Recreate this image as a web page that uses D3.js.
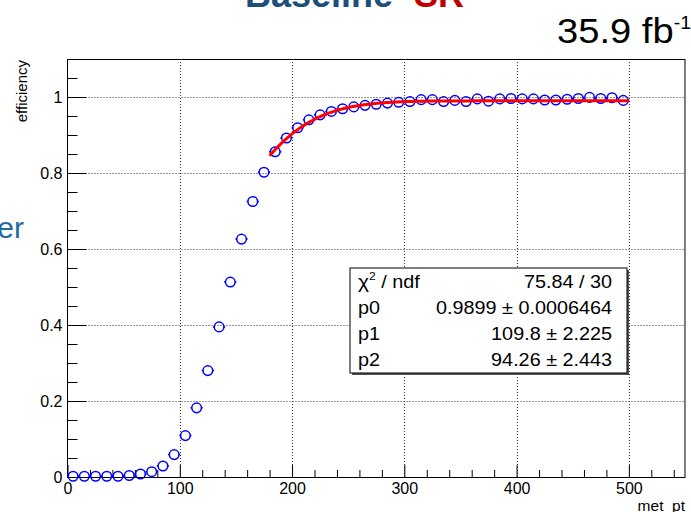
<!DOCTYPE html>
<html>
<head>
<meta charset="utf-8">
<script src="https://cdn.jsdelivr.net/npm/d3@7"></script>
<style>
  html, body { margin: 0; padding: 0; background: #fff; }
  svg { display: block; font-family: "Liberation Sans", Arial, Helvetica, sans-serif; }
</style>
</head>
<body>
<svg id="chart" width="691" height="512"></svg>
<script>
// MET trigger efficiency per 10 GeV bin (bin centres) and the fitted plateau
const metBinCenters = [5, 15, 25, 35, 45, 55, 65, 75, 85, 95,
  105, 115, 125, 135, 145, 155, 165, 175, 185, 195,
  205, 215, 225, 235, 245, 255, 265, 275, 285, 295,
  305, 315, 325, 335, 345, 355, 365, 375, 385, 395,
  405, 415, 425, 435, 445, 455, 465, 475, 485, 495];
const efficiency = [0.002, 0.002, 0.002, 0.002, 0.002, 0.004, 0.008, 0.014, 0.029, 0.059,
  0.109, 0.182, 0.280, 0.395, 0.513, 0.626, 0.725, 0.802, 0.856, 0.892,
  0.919, 0.940, 0.953, 0.962, 0.969, 0.974, 0.978, 0.981, 0.984, 0.986,
  0.988, 0.993, 0.993, 0.988, 0.991, 0.988, 0.995, 0.989, 0.995, 0.996,
  0.995, 0.995, 0.992, 0.992, 0.994, 0.996, 0.999, 0.996, 0.998, 0.991];
const binHalfWidth = 5;

// fit: p0 * 0.5 * (1 + erf((x - p1) / p2)), fitted over 180-500
const fitParams = { p0: 0.9899, p1: 109.8, p2: 94.26 };
const fitRange = [180, 500];

const xMajorTicks = [0, 100, 200, 300, 400, 500];
const yMajorTicks = [0, 0.2, 0.4, 0.6, 0.8, 1.0];

const statsRows = [
  { name: "p0", value: "0.9899 \u00b1 0.0006464" },
  { name: "p1", value: "109.8 \u00b1 2.225" },
  { name: "p2", value: "94.26 \u00b1 2.443" }
];
const chi2Text = "75.84 / 30";

const svg = d3.select("#chart");

const frame = { left: 67.5, right: 685, top: 59, bottom: 477 };
const x = d3.scaleLinear().domain([0, 550]).range([frame.left, frame.right]);
const y = d3.scaleLinear().domain([0, 1.1]).range([frame.bottom, frame.top]);

// Abramowitz & Stegun 7.1.26
function erf(v) {
  const s = v < 0 ? -1 : 1;
  const a = Math.abs(v);
  const t = 1 / (1 + 0.3275911 * a);
  const p = t * (0.254829592 + t * (-0.284496736 + t * (1.421413741 + t * (-1.453152027 + t * 1.061405429))));
  return s * (1 - p * Math.exp(-a * a));
}
const fitFn = v => fitParams.p0 * 0.5 * (1 + erf((v - fitParams.p1) / fitParams.p2));

// text placed at (px, py) and widened horizontally by sx
function wideText(parent, px, py, sx, anchor) {
  return parent.append("g").attr("transform", `translate(${px},${py}) scale(${sx},1)`)
    .append("text").attr("x", 0).attr("y", 0).attr("text-anchor", anchor || "start");
}

// slide fragments around the plot
svg.append("text").attr("x", 245).attr("y", 7)
  .attr("font-size", 36).attr("font-weight", "bold").attr("fill", "#1f4e79")
  .text("Baseline");
svg.append("text").attr("x", 414).attr("y", 7)
  .attr("font-size", 36).attr("font-weight", "bold").attr("fill", "#c00000")
  .text("SR");
svg.append("text").attr("x", 24).attr("y", 238).attr("text-anchor", "end")
  .attr("font-size", 30).attr("fill", "#1f6ba5")
  .text("er");

const lumi = wideText(svg, 557, 43, 1.09).attr("font-size", 35).attr("fill", "#000");
lumi.append("tspan").text("35.9 fb");
lumi.append("tspan").attr("font-size", 18).attr("dy", -14).text("-1");

// grid
const gridG = svg.append("g").attr("stroke", "#333").attr("stroke-width", 1)
  .attr("stroke-dasharray", "1,2");
gridG.selectAll("line.gx").data(xMajorTicks.filter(d => d > 0)).join("line")
  .attr("x1", d => Math.round(x(d)) + 0.5).attr("x2", d => Math.round(x(d)) + 0.5)
  .attr("y1", frame.top).attr("y2", frame.bottom);
gridG.selectAll("line.gy").data(yMajorTicks.filter(d => d > 0)).join("line")
  .attr("y1", d => Math.round(y(d)) + 0.5).attr("y2", d => Math.round(y(d)) + 0.5)
  .attr("x1", frame.left).attr("x2", frame.right);

// frame
svg.append("rect")
  .attr("x", frame.left).attr("y", frame.top + 0.5)
  .attr("width", frame.right - frame.left).attr("height", frame.bottom - frame.top)
  .attr("fill", "none").attr("stroke", "#000").attr("stroke-width", 1);

// axes: inward major + minor ticks
const fmt = d => d3.format("~g")(d);
const xMinor = d3.range(0, 551, 20).filter(v => v % 100 !== 0);
const yMinor = d3.range(0, 22).map(i => +(i * 0.05).toFixed(2)).filter(v => Math.abs(v * 5 - Math.round(v * 5)) > 1e-6);

const xAxisG = svg.append("g").attr("transform", `translate(0,${frame.bottom})`);
xAxisG.append("g").call(d3.axisBottom(x).tickValues(xMinor).tickSize(-7).tickFormat(""));
xAxisG.append("g").call(d3.axisBottom(x).tickValues(xMajorTicks).tickSize(-12).tickPadding(6).tickFormat(fmt));

const yAxisG = svg.append("g").attr("transform", `translate(${frame.left},0)`);
yAxisG.append("g").call(d3.axisLeft(y).tickValues(yMinor).tickSize(-10).tickFormat(""));
yAxisG.append("g").call(d3.axisLeft(y).tickValues(yMajorTicks).tickSize(-19).tickPadding(5).tickFormat(fmt));

svg.selectAll(".domain").remove();
svg.selectAll(".tick line").attr("stroke", "#000");
svg.selectAll(".tick text").attr("font-size", 16).attr("fill", "#000")
  .attr("font-family", "\"Liberation Sans\", Arial, sans-serif");

// axis titles
svg.append("text").attr("x", frame.right).attr("y", 511).attr("text-anchor", "end")
  .attr("font-size", 15.5).attr("fill", "#000").text("met_pt");
svg.append("text").attr("transform", `translate(27,${frame.top + 1}) rotate(-90)`)
  .attr("text-anchor", "end").attr("font-size", 15).attr("fill", "#000").text("efficiency");

// data points: open circles with horizontal bin-width bars
const r = 4.8;
const pts = svg.append("g").attr("stroke", "#0000ff").attr("stroke-width", 1.5).attr("fill", "none");
const data = metBinCenters.map((c, i) => ({ c, e: efficiency[i] }));
pts.selectAll("path.err").data(data).join("path")
  .attr("d", d => {
    const cx = x(d.c), cy = y(d.e);
    const lo = x(d.c - binHalfWidth) - 0.5, hi = x(d.c + binHalfWidth) + 0.5;
    return `M${lo},${cy}H${cx - r}M${cx + r},${cy}H${hi}`;
  });
pts.selectAll("circle").data(data).join("circle")
  .attr("cx", d => x(d.c)).attr("cy", d => y(d.e)).attr("r", r);

// fit curve
const fitX = d3.range(fitRange[0], fitRange[1] + 0.01, 2);
svg.append("path").datum(fitX)
  .attr("d", d3.line().x(v => x(v)).y(v => y(fitFn(v))))
  .attr("fill", "none").attr("stroke", "#ff0000").attr("stroke-width", 3);

// stats box
const box = { x: 350, y: 268, w: 277, h: 105 };
svg.append("rect").attr("x", box.x + 2).attr("y", box.y + 2).attr("width", box.w).attr("height", box.h)
  .attr("fill", "#555");
svg.append("rect").attr("x", box.x).attr("y", box.y).attr("width", box.w).attr("height", box.h)
  .attr("fill", "#fff").attr("stroke", "#000").attr("stroke-width", 1);
const rowH = box.h / 4;
const statG = svg.append("g").attr("font-size", 18).attr("fill", "#000");
const statScale = 1.1;
const row0 = box.y + rowH * 0.5 + 6.5;
const chiLabel = wideText(statG, 358, row0, statScale);
chiLabel.append("tspan").attr("font-size", 19).text("\u03c7");
chiLabel.append("tspan").attr("font-size", 11).attr("dy", -8).text("2");
chiLabel.append("tspan").attr("dy", 8).text(" / ndf");
wideText(statG, 612, row0, statScale, "end").text(chi2Text);
statsRows.forEach((row, i) => {
  const yy = box.y + rowH * (i + 1.5) + 6.5;
  wideText(statG, 358, yy, statScale).text(row.name);
  wideText(statG, 612, yy, statScale, "end").text(row.value);
});
</script>
</body>
</html>
